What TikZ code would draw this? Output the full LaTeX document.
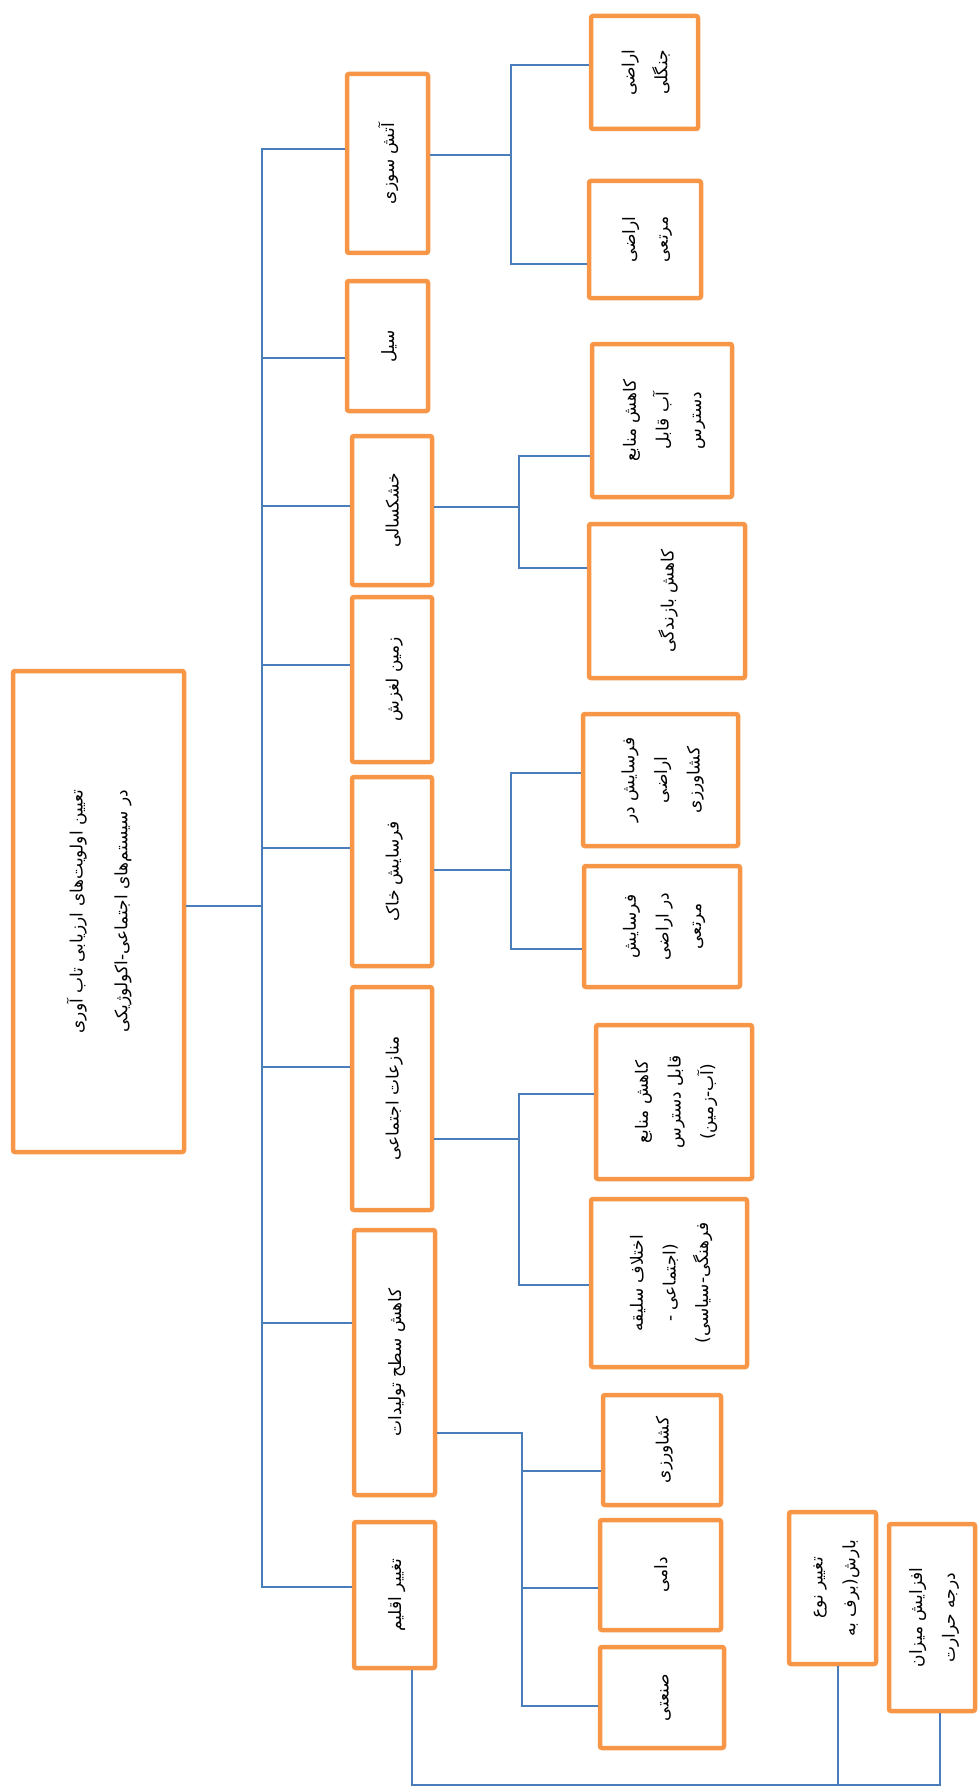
\documentclass[tikz,border=0pt]{standalone}
\usepackage{fontspec}
\usepackage{graphicx}
\usetikzlibrary{calc, positioning}
\newfontfamily\arabicfont[Script=Arabic]{DejaVu Sans}
\TeXXeTstate=1
\definecolor{boxorange}{HTML}{F79646}
\definecolor{linkblue}{HTML}{4A7EBB}
\renewcommand{\arraystretch}{1.55}
\newcommand{\fa}[1]{\beginR#1\endR}
\newcommand{\vlines}[1]{\rotatebox{90}{\begin{tabular}{@{}c@{}}#1\end{tabular}}}

\begin{document}
\begin{tikzpicture}[x=1pt, y=-1pt,
            box/.style={draw=boxorange, line width=4.5pt, rounded corners=2pt,
                        inner sep=0pt, font=\arabicfont\fontsize{17}{21}\selectfont},
            conn/.style={draw=linkblue, line width=1.5pt}
        ]
        \useasboundingbox (0,0) rectangle (977,1787);

        % Main goal
        \node[box, minimum width=171, minimum height=481] (goal) at (98.5,911.5)
            {\vlines{\fa{تعیین اولویت^^^^200cهای ارزیابی تاب آوری}\\[12pt] \fa{در سیستم^^^^200cهای اجتماعی-اکولوژیکی}}};

        % First level: hazards
        \node[box, minimum width=81, minimum height=179] (fire) at (387.5,163.5) {\vlines{\fa{آتش سوزی}}};
        \node[box, minimum width=81, minimum height=130] (flood) at (387.5,346) {\vlines{\fa{سیل}}};
        \node[box, minimum width=80, minimum height=149] (drought) at (392,510.5) {\vlines{\fa{خشکسالی}}};
        \node[box, minimum width=80, minimum height=165] (slide) at (392,679.5) {\vlines{\fa{زمین لغزش}}};
        \node[box, minimum width=80, minimum height=189] (erosion) at (392,871.5) {\vlines{\fa{فرسایش خاک}}};
        \node[box, minimum width=80, minimum height=223] (conflict) at (392,1098.5) {\vlines{\fa{منازعات اجتماعی}}};
        \node[box, minimum width=81, minimum height=265] (yield) at (394.5,1362.5) {\vlines{\fa{کاهش سطح تولیدات}}};
        \node[box, minimum width=81, minimum height=146] (climate) at (394.5,1595) {\vlines{\fa{تغییر اقلیم}}};

        % Second level
        \node[box, minimum width=107, minimum height=113] (forest) at (644.5,72.5) {\vlines{\fa{اراضی}\\ \fa{جنگلی}}};
        \node[box, minimum width=112, minimum height=117] (range) at (645,239.5) {\vlines{\fa{اراضی}\\ \fa{مرتعی}}};
        \node[box, minimum width=140, minimum height=153] (water) at (662,420.5) {\vlines{\fa{کاهش منابع}\\ \fa{آب قابل}\\ \fa{دسترس}}};
        \node[box, minimum width=156, minimum height=154] (rain) at (667,601) {\vlines{\fa{کاهش بازندگی}}};
        \node[box, minimum width=155, minimum height=132] (erosfarm) at (660.5,780) {\vlines{\fa{فرسایش در}\\ \fa{اراضی}\\ \fa{کشاورزی}}};
        \node[box, minimum width=156, minimum height=121] (erosrange) at (662,926.5) {\vlines{\fa{فرسایش}\\ \fa{در اراضی}\\ \fa{مرتعی}}};
        \node[box, minimum width=156, minimum height=154] (access) at (674,1102) {\vlines{\fa{کاهش منابع}\\ \fa{قابل دسترس}\\ \fa{(آب-زمین)}}};
        \node[box, minimum width=156, minimum height=168] (taste) at (669,1283) {\vlines{\fa{اختلاف سلیقه}\\ \fa{(اجتماعی -}\\ \fa{فرهنگی-سیاسی)}}};
        \node[box, minimum width=118, minimum height=110] (farm) at (662,1450) {\vlines{\fa{کشاورزی}}};
        \node[box, minimum width=121, minimum height=110] (stock) at (660.5,1575) {\vlines{\fa{دامی}}};
        \node[box, minimum width=124, minimum height=101] (industry) at (662,1697.5) {\vlines{\fa{صنعتی}}};
        \node[box, minimum width=87, minimum height=152] (precip) at (832.5,1588) {\vlines{\fa{تغییر نوع}\\ \fa{بارش(برف به}}};
        \node[box, minimum width=86, minimum height=187] (heat) at (932,1617.5) {\vlines{\fa{افزایش میزان}\\ \fa{درجه حرارت}}};

        % Trunk from goal to hazards
        \coordinate (trunk) at (262,0);
        \coordinate (goalOut) at ([yshift=5.5pt]goal.east);
        \coordinate (fireIn) at ([yshift=14.5pt]fire.west);
        \coordinate (floodIn) at ([yshift=-12pt]flood.west);
        \coordinate (droughtIn) at ([yshift=4.5pt]drought.west);
        \coordinate (slideIn) at ([yshift=14.5pt]slide.west);
        \coordinate (erosionIn) at ([yshift=23.5pt]erosion.west);
        \coordinate (conflictIn) at ([yshift=31.5pt]conflict.west);
        \coordinate (yieldIn) at ([yshift=39.5pt]yield.west);
        \coordinate (climateIn) at ([yshift=8pt]climate.west);
        \draw[conn] (goalOut) -- (goalOut -| trunk);
        \draw[conn] (fireIn) -- (fireIn -| trunk) -- (climateIn -| trunk) -- (climateIn);
        \draw[conn] (floodIn) -- (floodIn -| trunk);
        \draw[conn] (droughtIn) -- (droughtIn -| trunk);
        \draw[conn] (slideIn) -- (slideIn -| trunk);
        \draw[conn] (erosionIn) -- (erosionIn -| trunk);
        \draw[conn] (conflictIn) -- (conflictIn -| trunk);
        \draw[conn] (yieldIn) -- (yieldIn -| trunk);

        % Fire branches
        \coordinate (forkA) at (511,0);
        \coordinate (fireOut) at ([yshift=8.5pt]fire.east);
        \coordinate (forestIn) at ([yshift=7.5pt]forest.west);
        \coordinate (rangeIn) at ([yshift=-24.5pt]range.west);
        \draw[conn] (fireOut) -- (fireOut -| forkA);
        \draw[conn] (forestIn) -- (forestIn -| forkA) -- (rangeIn -| forkA) -- (rangeIn);

        % Drought branches
        \coordinate (forkB) at (519,0);
        \coordinate (droughtOut) at ([yshift=3.5pt]drought.east);
        \coordinate (waterIn) at ([yshift=-35.5pt]water.west);
        \coordinate (rainIn) at ([yshift=33pt]rain.west);
        \draw[conn] (droughtOut) -- (droughtOut -| forkB);
        \draw[conn] (waterIn) -- (waterIn -| forkB) -- (rainIn -| forkB) -- (rainIn);

        % Erosion branches
        \coordinate (erosionOut) at ([yshift=1.5pt]erosion.east);
        \coordinate (erosfarmIn) at ([yshift=7pt]erosfarm.west);
        \coordinate (erosrangeIn) at ([yshift=-22.5pt]erosrange.west);
        \draw[conn] (erosionOut) -- (erosionOut -| forkA);
        \draw[conn] (erosfarmIn) -- (erosfarmIn -| forkA) -- (erosrangeIn -| forkA) -- (erosrangeIn);

        % Conflict branches
        \coordinate (conflictOut) at ([yshift=-40.5pt]conflict.east);
        \coordinate (accessIn) at ([yshift=8pt]access.west);
        \coordinate (tasteIn) at ([yshift=-2pt]taste.west);
        \draw[conn] (conflictOut) -- (conflictOut -| forkB);
        \draw[conn] (accessIn) -- (accessIn -| forkB) -- (tasteIn -| forkB) -- (tasteIn);

        % Production branches
        \coordinate (forkC) at (522,0);
        \coordinate (yieldOut) at ([yshift=-70.5pt]yield.east);
        \coordinate (farmIn) at ([yshift=-21pt]farm.west);
        \coordinate (stockIn) at ([yshift=-13pt]stock.west);
        \coordinate (industryIn) at ([yshift=-8.5pt]industry.west);
        \draw[conn] (yieldOut) -- (yieldOut -| forkC) -- (industryIn -| forkC) -- (industryIn);
        \draw[conn] (farmIn) -- (farmIn -| forkC);
        \draw[conn] (stockIn) -- (stockIn -| forkC);

        % Climate branches along the bottom
        \coordinate (bus) at (0,1785);
        \coordinate (climateOut) at ([xshift=17.5pt]climate.south);
        \coordinate (precipOut) at ([xshift=5.5pt]precip.south);
        \coordinate (heatOut) at ([xshift=8pt]heat.south);
        \draw[conn] (climateOut) -- (climateOut |- bus) -- (heatOut |- bus) -- (heatOut);
        \draw[conn] (precipOut) -- (precipOut |- bus);
\end{tikzpicture}
\end{document}
